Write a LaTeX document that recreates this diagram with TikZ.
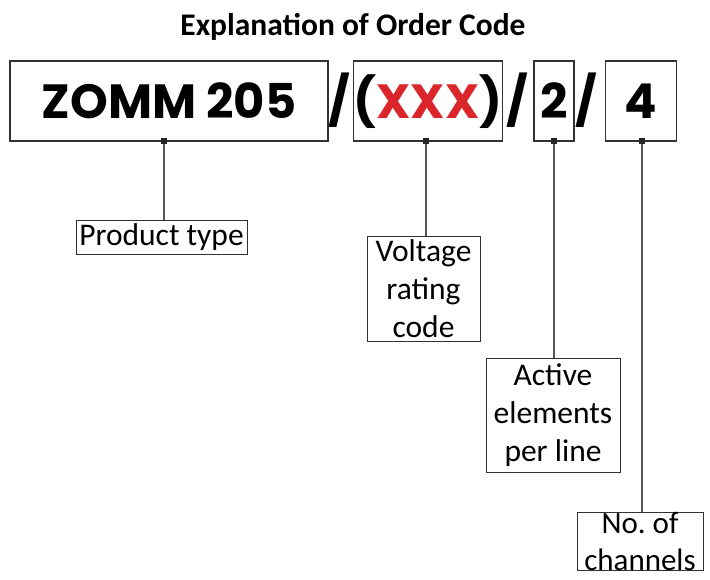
\documentclass[tikz,border=0pt]{standalone}
\usepackage{fontspec}
\setmainfont{Carlito}
\newfontfamily\codefont{Poppins}
\usetikzlibrary{positioning}
\definecolor{codered}{RGB}{218,37,43}
\definecolor{leadgray}{RGB}{85,85,85}
\definecolor{boxgray}{RGB}{50,50,50}

\tikzset{
  codebox/.style={draw=boxgray, line width=1.2pt, inner sep=0pt, minimum height=80pt,
    text height=34pt, text depth=0pt, font=\codefont\bfseries\fontsize{48}{48}\selectfont},
  slash/.style={inner sep=0pt, text height=34pt, text depth=0pt,
    font=\codefont\bfseries\fontsize{48}{48}\selectfont},
  labelbox/.style={draw=boxgray, line width=1pt, inner xsep=2pt, inner ysep=1pt,
    align=center, anchor=north, font=\fontsize{31.5}{38}\selectfont},
  lead/.style={draw=leadgray, line width=1.3pt},
  dot/.style={fill=black!85, minimum size=6pt, inner sep=0pt}
}

\begin{document}
\begin{tikzpicture}[x=1pt,y=1pt]
  \useasboundingbox (0,0) rectangle (710,-579);
  \clip (0,0) rectangle (710,-579);

  % title
  \node[anchor=base, font=\bfseries\fontsize{31.5}{34}\selectfont] (title) at (353,-35) {Explanation of Order Code};

  % order code parts
  \node[codebox, minimum width=318pt] (type) at (169,-101) {ZOMM 205};
  \node[slash] (s1) at (339,-101) {/};
  \node[codebox, minimum width=144pt] (volt) at (428,-101) {(\textcolor{codered}{XXX})};
  \node[slash] (s2) at (517,-101) {/};
  \node[codebox, minimum width=40pt] (elem) at (554,-101) {2};
  \node[slash] (s3) at (586,-101) {/};
  \node[codebox, minimum width=71pt] (chan) at (641,-101) {4};

  % explanations
  \node[labelbox, minimum width=171pt, minimum height=34pt] (ptype) at (161.5,-220) {Product type};
  \node[labelbox, minimum width=113pt, minimum height=105pt] (vrate) at (423.5,-236) {Voltage\\rating\\code};
  \node[labelbox, minimum width=134pt, minimum height=114pt] (active) at (553,-358) {Active\\elements\\per line};
  \node[labelbox, minimum width=126pt, inner ysep=0pt, font=\fontsize{31}{37}\selectfont] (nchan) at (640,-512) {No.\ of\\channels};

  % leads
  \node[dot] (d1) at (164,-141) {};
  \node[dot] (d2) at (426,-141) {};
  \node[dot] (d3) at (554,-141) {};
  \node[dot] (d4) at (642,-141) {};
  \draw[lead] (d1) -- (d1 |- ptype.north);
  \draw[lead] (d2) -- (d2 |- vrate.north);
  \draw[lead] (d3) -- (d3 |- active.north);
  \draw[lead] (d4) -- (d4 |- nchan.north);
\end{tikzpicture}
\end{document}
